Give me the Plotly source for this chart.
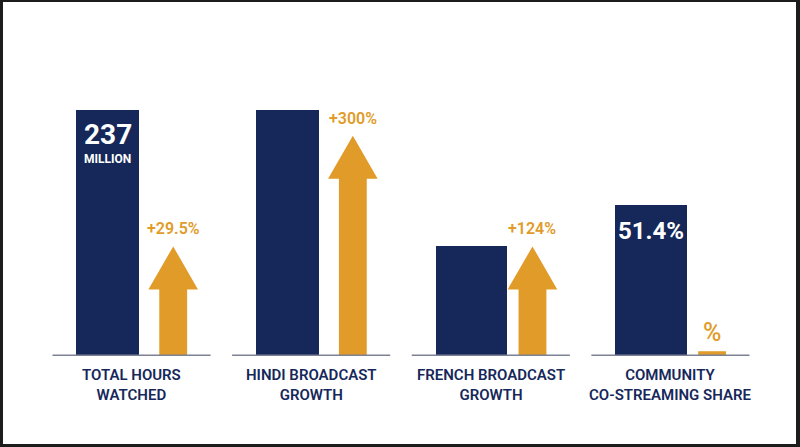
import plotly.graph_objects as go

# categories and values (bar heights in relative units, baseline = 0)
categories = ["TOTAL HOURS<br>WATCHED", "HINDI BROADCAST<br>GROWTH",
              "FRENCH BROADCAST<br>GROWTH", "COMMUNITY<br>CO-STREAMING SHARE"]
bar_values = [100, 100, 44.3, 61.0]
arrow_values = [44.3, 89.4, 44.3, 1.6]
arrow_labels = ["+29.5%", "+300%", "+124%", "%"]
bar_labels = ["237", "", "", "51.4%"]
bar_sublabels = ["MILLION", "", "", ""]

NAVY = "#16285A"
ORANGE = "#E19B28"
GRID = "#7C8193"

# layout geometry (x in group units, y in value units)
bar_offsets = [-0.133, -0.133, -0.108, -0.108]
bar_widths = [0.348, 0.348, 0.398, 0.398]
arrow_offset = 0.232
shaft_w = 0.155
head_w = 0.276
head_h = 17.5

xs = list(range(len(categories)))
fig = go.Figure()

fig.add_trace(go.Bar(
    x=[x + o for x, o in zip(xs, bar_offsets)], y=bar_values, width=bar_widths,
    marker=dict(color=NAVY, line=dict(width=0)), showlegend=False, hoverinfo="skip",
))

for x, v in zip(xs, arrow_values):
    cx = x + arrow_offset
    if v > head_h:
        px = [cx - shaft_w / 2, cx - shaft_w / 2, cx - head_w / 2, cx, cx + head_w / 2,
              cx + shaft_w / 2, cx + shaft_w / 2, cx - shaft_w / 2]
        py = [0, v - head_h, v - head_h, v, v - head_h, v - head_h, 0, 0]
    else:
        px = [cx - shaft_w / 2, cx - shaft_w / 2, cx + shaft_w / 2, cx + shaft_w / 2, cx - shaft_w / 2]
        py = [0, v, v, 0, 0]
    fig.add_trace(go.Scatter(
        x=px, y=py, mode="lines", fill="toself", fillcolor=ORANGE,
        line=dict(width=0, color=ORANGE), showlegend=False, hoverinfo="skip",
    ))

# baselines under each group
for x in xs:
    fig.add_shape(type="line", x0=x - 0.44, x1=x + 0.44, y0=0, y1=0,
                  line=dict(color=GRID, width=1.5), layer="above")

annotations = []
for x, v, lab in zip(xs, arrow_values, arrow_labels):
    small = v <= head_h
    annotations.append(dict(
        x=x + arrow_offset, y=v, text=lab, showarrow=False, yanchor="bottom",
        yshift=2 if small else 6,
        font=dict(family="Roboto", size=25 if small else 16, color=ORANGE, weight=500 if small else 600),
    ))
for x, o, v, lab, sub in zip(xs, bar_offsets, bar_values, bar_labels, bar_sublabels):
    if lab:
        annotations.append(dict(
            x=x + o, y=v, text=lab, showarrow=False, yanchor="top",
            yshift=-6 if sub else -10,
            font=dict(family="Roboto", size=28 if sub else 24, color="white", weight=700),
        ))
    if sub:
        annotations.append(dict(
            x=x + o, y=v, text=sub, showarrow=False, yanchor="top", yshift=-40,
            font=dict(family="Roboto", size=12, color="white", weight=700),
        ))
for x, cat in zip(xs, categories):
    annotations.append(dict(
        x=x, y=0, text=cat, showarrow=False, yanchor="top", yshift=-9,
        font=dict(family="Roboto", size=15, color=NAVY, weight=600),
    ))

fig.update_layout(
    width=800, height=447,
    margin=dict(l=3, r=4, t=2, b=3),
    paper_bgcolor="#1c1c1c", plot_bgcolor="white",
    bargap=0, annotations=annotations,
    xaxis=dict(range=[-0.7155, 3.6990], visible=False, fixedrange=True),
    yaxis=dict(range=[-36.2, 143.9], visible=False, fixedrange=True),
)

fig.write_html("out.html", config={"displayModeBar": False},
               post_script="document.body.style.margin='0';")
